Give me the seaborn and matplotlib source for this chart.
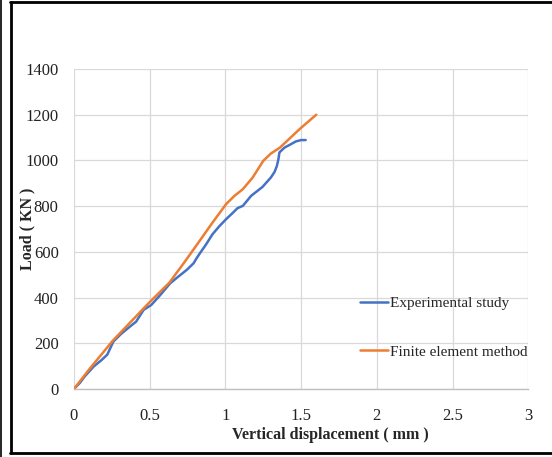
import pandas as pd
import matplotlib
matplotlib.use("Agg")
import matplotlib.pyplot as plt
from matplotlib.lines import Line2D
import seaborn as sns

# ---------------------------------------------------------------------
# Data
# ---------------------------------------------------------------------
exp_disp = [0.0, 0.04, 0.07, 0.13, 0.18, 0.22, 0.26, 0.31, 0.37, 0.41, 0.46,
            0.51, 0.57, 0.635, 0.69, 0.745, 0.79, 0.81, 0.83, 0.87, 0.915,
            0.96, 1.005, 1.045, 1.08, 1.115, 1.17, 1.245, 1.30, 1.325, 1.34,
            1.35, 1.357, 1.39, 1.43, 1.465, 1.50, 1.53]
exp_load = [0, 27, 54, 98, 125, 150, 207, 240, 273, 294, 346,
            367, 411, 462, 492, 521, 550, 572, 592, 630, 677,
            712, 743, 768, 791, 801, 845, 884, 925, 950, 976,
            1005, 1035, 1056, 1070, 1083, 1089, 1089]

fem_disp = [0.0, 0.1, 0.255, 0.5, 0.63, 0.73, 0.83, 0.915, 1.005, 1.06,
            1.115, 1.18, 1.25, 1.30, 1.36, 1.49, 1.6]
fem_load = [0, 85, 210, 380, 465, 555, 648, 728, 809, 845,
            874, 925, 998, 1030, 1056, 1137, 1200]

SERIES = ["Experimental study", "Finite element method"]
COLORS = ["#4472C4", "#ED7D31"]
X_TICKS = [0, 0.5, 1, 1.5, 2, 2.5, 3]
X_TICKLABELS = ["0", "0.5", "1", "1.5", "2", "2.5", "3"]
Y_TICKS = [0, 200, 400, 600, 800, 1000, 1200, 1400]

df = pd.concat([
    pd.DataFrame({"disp": exp_disp, "load": exp_load, "series": SERIES[0]}),
    pd.DataFrame({"disp": fem_disp, "load": fem_load, "series": SERIES[1]}),
], ignore_index=True)

# ---------------------------------------------------------------------
# Plot
# ---------------------------------------------------------------------
sns.set_style("white")
plt.rcParams["font.family"] = ["Liberation Serif", "DejaVu Serif"]

fig = plt.figure(figsize=(5.52, 4.57), dpi=100)
ax = fig.add_axes([0.134, 0.149, 0.823, 0.700])

sns.lineplot(data=df, x="disp", y="load", hue="series", palette=COLORS,
             sort=False, estimator=None, linewidth=1.8, ax=ax)

ax.set_xlim(0, 3)
ax.set_ylim(0, 1400)
ax.set_xticks(X_TICKS)
ax.set_xticklabels(X_TICKLABELS)
ax.set_yticks(Y_TICKS)
ax.grid(True, color="#d9d9d9", linewidth=0.9)
ax.set_axisbelow(True)
for side in ["top", "right", "left"]:
    ax.spines[side].set_visible(False)
ax.spines["bottom"].set_color("#bfbfbf")
ax.spines["bottom"].set_linewidth(1.0)
ax.tick_params(axis="both", length=0, labelsize=12, colors="#222222")
ax.tick_params(axis="x", pad=14)
ax.tick_params(axis="y", pad=11)

ax.set_xlabel("Vertical displacement ( mm )", fontsize=11.5, fontweight="bold")
ax.set_ylabel("Load ( KN )", fontsize=11.5, fontweight="bold")
ax.xaxis.set_label_coords(0.564, -0.12)
ax.yaxis.set_label_coords(-0.086, 0.5)

ax.legend(loc="upper left", bbox_to_anchor=(0.617, 0.309), frameon=False,
          handlelength=1.8, handletextpad=0.15, labelspacing=2.3,
          fontsize=11, borderaxespad=0)

# outer frame lines
fig.add_artist(Line2D([11 / 552, 11 / 552], [1 - 2 / 457, 1 - 453 / 457],
                      transform=fig.transFigure, color="black", linewidth=2))
fig.add_artist(Line2D([10 / 552, 1.0], [1 - 2 / 457, 1 - 2 / 457],
                      transform=fig.transFigure, color="black", linewidth=2))
fig.add_artist(Line2D([10 / 552, 1.0], [1 - 453 / 457, 1 - 453 / 457],
                      transform=fig.transFigure, color="black", linewidth=2))
fig.add_artist(Line2D([0.5 / 552, 0.5 / 552], [0, 1],
                      transform=fig.transFigure, color="black", linewidth=1.2))

fig.savefig("out.png", dpi=100)
plt.close(fig)
